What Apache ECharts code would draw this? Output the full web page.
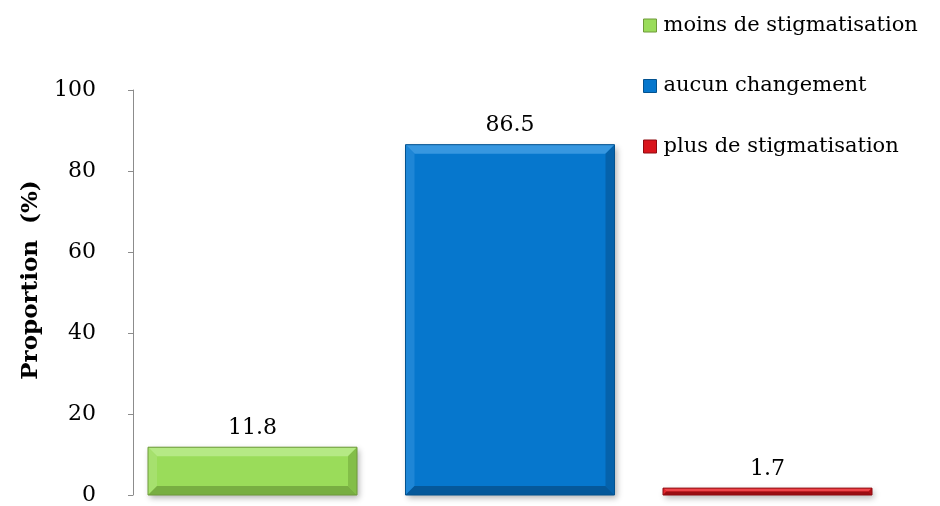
<!DOCTYPE html>
<html><head><meta charset="utf-8">
<script src="https://cdn.jsdelivr.net/npm/echarts@6/dist/echarts.min.js"></script>
<style>html,body{margin:0;padding:0;background:#fff}#c{width:940px;height:506px}</style>
</head><body><div id="c"></div>
<script>
var categories = [''];
var seriesNames = ['moins de stigmatisation', 'aucun changement', 'plus de stigmatisation'];
var seriesValues = [11.8, 86.5, 1.7];
var yTicks = [0, 20, 40, 60, 80, 100];

var palette = [
  {base:'#9ADC5A', top:'#B5E985', left:'#A6E06E', right:'#83BE48', bottom:'#78AE42', edge:'#6E9A3A'},
  {base:'#0677CD', top:'#3797E0', left:'#1E86D6', right:'#0562AB', bottom:'#05589A', edge:'#03528F'},
  {base:'#D9151C', top:'#EE4449', left:'#E4262D', right:'#B01016', bottom:'#9A0D12', edge:'#8E0B10'}
];
var FONT = 'DejaVu Serif';

function makeRender(idx) {
  return function (params, api) {
    var v = api.value(1);
    var top = api.coord([0, v]);
    var zero = api.coord([0, 0]);
    var band = api.size([1, 0])[0];
    var w = band * 209 / 754;
    var step = band * 257.5 / 754;
    var cx = top[0] + (idx - 1) * step;
    var x0 = cx - w / 2, x1 = cx + w / 2, y0 = top[1], y1 = zero[1];
    var h = y1 - y0;
    var b = Math.min(9, h / 2);
    var c = palette[idx];
    var pts = function (a) { return {type:'polygon', shape:{points:a}}; };
    var children = [
      {type:'rect', shape:{x:x0, y:y0, width:w, height:h},
       style:{fill:c.base, shadowBlur:6, shadowOffsetX:2, shadowOffsetY:3, shadowColor:'rgba(0,0,0,0.3)'}},
      Object.assign(pts([[x0,y0],[x1,y0],[x1-b,y0+b],[x0+b,y0+b]]), {style:{fill:c.top}}),
      Object.assign(pts([[x0,y0],[x0+b,y0+b],[x0+b,y1-b],[x0,y1]]), {style:{fill:c.left}}),
      Object.assign(pts([[x1,y0],[x1,y1],[x1-b,y1-b],[x1-b,y0+b]]), {style:{fill:c.right}}),
      Object.assign(pts([[x0,y1],[x0+b,y1-b],[x1-b,y1-b],[x1,y1]]), {style:{fill:c.bottom}}),
      {type:'rect', shape:{x:x0, y:y0, width:w, height:h}, style:{fill:'none', stroke:c.edge, lineWidth:1}},
      {type:'text', x:cx, y:y0 - 8, style:{text:String(api.value(1)), fill:'#000', font:'22px "' + FONT + '"', align:'center', verticalAlign:'bottom'}}
    ];
    return {type:'group', children:children};
  };
}

var series = seriesNames.map(function (n, i) {
  return {
    name: n, type: 'custom', renderItem: makeRender(i),
    itemStyle: {color: palette[i].base},
    encode: {x: 0, y: 1},
    data: [[0, seriesValues[i]]]
  };
});

var chart = echarts.init(document.getElementById('c'), null, {renderer:'canvas'});
chart.setOption({
  animation: false,
  textStyle: {fontFamily: FONT},
  legend: {
    orient: 'vertical', left: 638, top: 10, itemGap: 39.5, itemWidth: 13, itemHeight: 13,
    textStyle: {fontFamily: FONT, fontSize: 21, color: '#000', padding:[0,0,0,2]},
    data: seriesNames.map(function (n, i) {
      return {name: n, icon: 'rect', itemStyle: {color: palette[i].base, borderColor: palette[i].edge, borderWidth: 1}};
    })
  },
  grid: {left: 133, right: 53, top: 90, bottom: 10, containLabel: false},
  xAxis: {
    type: 'category', data: categories,
    axisLine: {show: false}, axisTick: {show: false}, axisLabel: {show: false}
  },
  yAxis: {
    type: 'value', min: 0, max: 100, interval: 20,
    name: 'Proportion  (%)', nameLocation: 'middle', nameGap: 90, nameRotate: 90,
    nameTextStyle: {fontFamily: FONT, fontSize: 23, fontWeight: 'bold', color: '#000', padding:[0,0,0,25]},
    axisLine: {show: true, lineStyle: {color: '#8c8c8c', width: 1}},
    axisTick: {show: true, length: 5, lineStyle: {color: '#8c8c8c'}},
    axisLabel: {fontFamily: FONT, fontSize: 22, color: '#000', margin: 37},
    splitLine: {show: false}
  },
  series: series
});
</script></body></html>
